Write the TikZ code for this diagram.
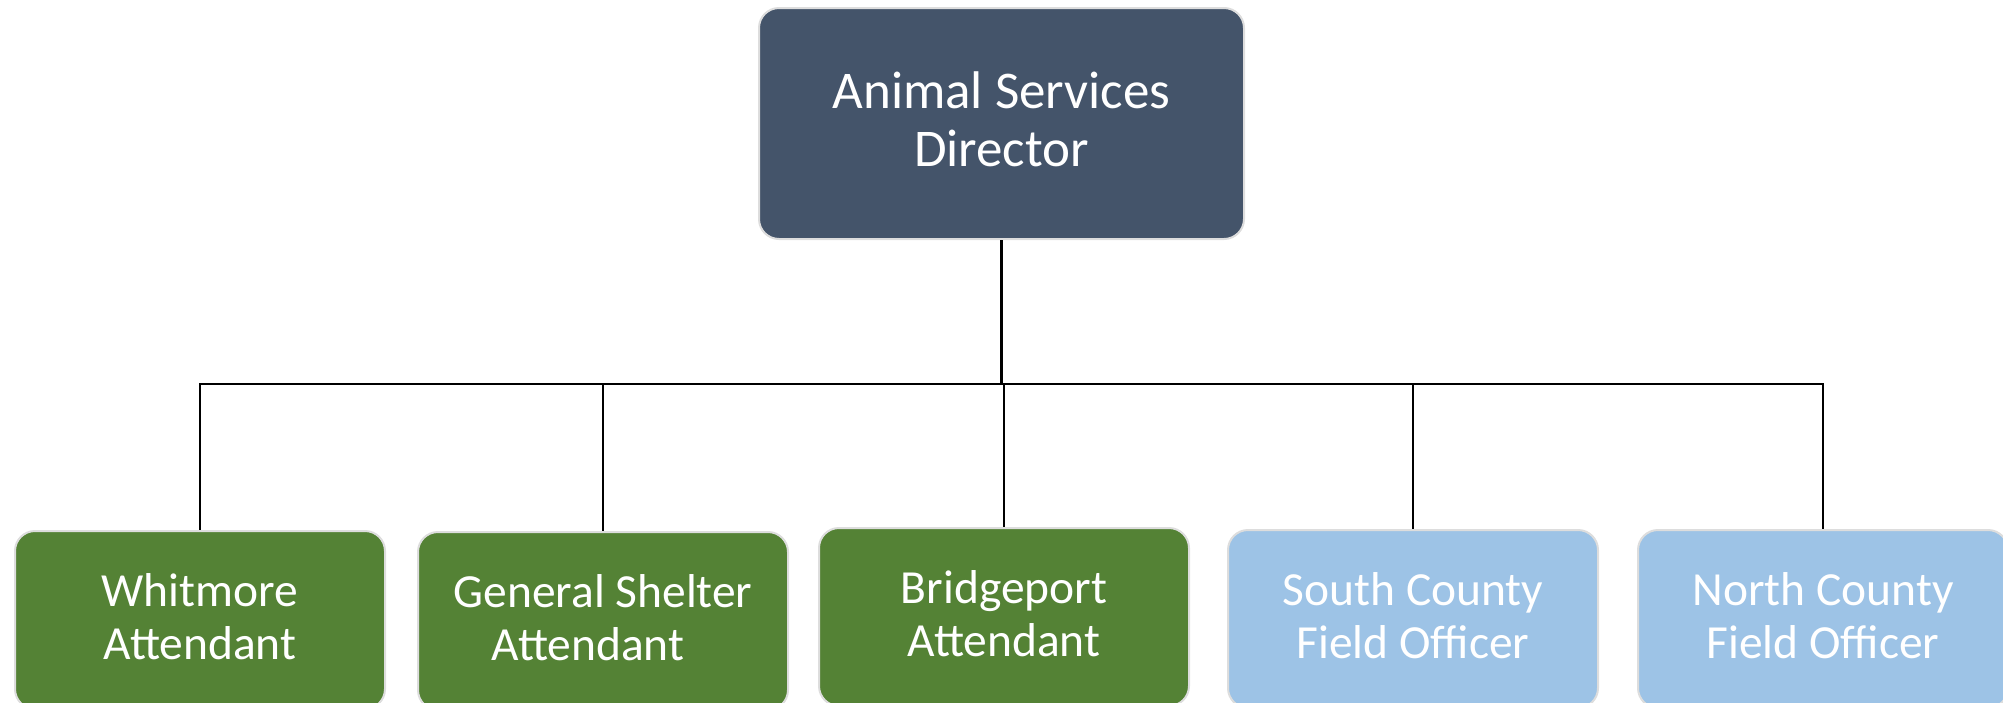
\documentclass[tikz,border=0pt]{standalone}
\usepackage{fontspec}
\setmainfont{Carlito}
\definecolor{topfill}{HTML}{44546A}
\definecolor{greenfill}{HTML}{548235}
\definecolor{bluefill}{HTML}{9DC3E6}
\definecolor{boxborder}{HTML}{DDDDDD}
\tikzset{
  orgbox/.style={draw=boxborder, line width=2pt, rounded corners=20pt, inner sep=0pt,
    text=white, align=center, anchor=north west},
  topbox/.style={orgbox, fill=topfill, minimum width=485pt, minimum height=231pt,
    font=\fontsize{53pt}{58pt}\selectfont},
  greenbox/.style={orgbox, fill=greenfill, minimum width=370pt, minimum height=178pt,
    font=\fontsize{47.5pt}{53pt}\selectfont},
  bluebox/.style={orgbox, fill=bluefill, minimum width=370pt, minimum height=178pt,
    font=\fontsize{47.5pt}{53pt}\selectfont},
  link/.style={draw=black, line width=2.8pt}
}
\begin{document}
\begin{tikzpicture}[x=1pt,y=-1pt]
\useasboundingbox (0,0) rectangle (2003,702);
\node[topbox] (dir) at (758,7) {Animal Services\\Director\\[-50pt]};
\node[greenbox] (whit) at (14,530) {Whitmore\\Attendant\\[-45pt]};
\node[greenbox] (gen) at (417,531) {General Shelter\\Attendant\hspace*{30pt}\mbox{}\\[-45pt]};
\node[greenbox] (bridge) at (818,527) {Bridgeport\\Attendant\\[-45pt]};
\node[bluebox] (south) at (1227,529) {South County\\Field Officer\\[-45pt]};
\node[bluebox] (north) at (1637,529) {North County\\Field Officer\\[-45pt]};
\coordinate (bus) at (dir.south |- 0,384);
\draw[link] (dir.south) -- (bus);
\draw[link] (bus) -| (whit.north);
\draw[link] (bus) -| (gen.north);
\draw[link] (bus) -| (bridge.north);
\draw[link] (bus) -| (south.north);
\draw[link] (bus) -| (north.north);
\end{tikzpicture}
\end{document}
